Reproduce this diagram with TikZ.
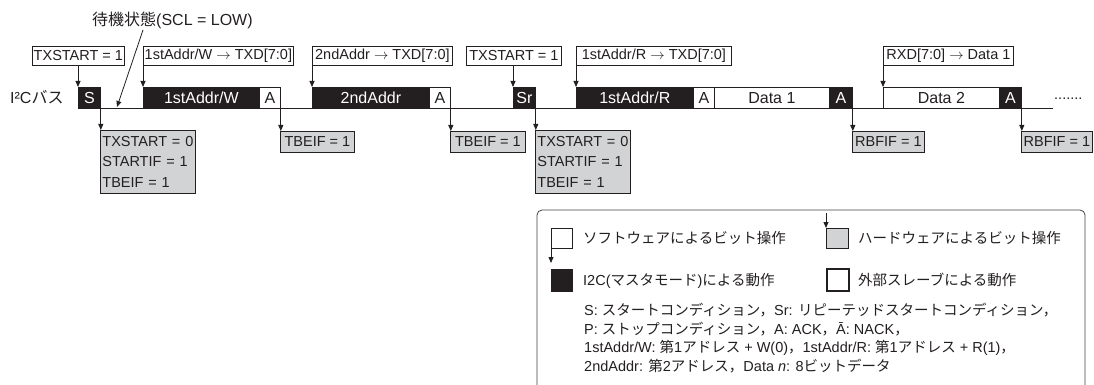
\documentclass[tikz,border=0pt]{standalone}
\usepackage{fontspec}
\setmainfont{Liberation Sans}
\newfontfamily\jp{Noto Sans CJK JP}
\usetikzlibrary{arrows.meta}
\definecolor{ink}{HTML}{231F20}
\definecolor{hwgray}{HTML}{D1D3D4}
\begin{document}
\begin{tikzpicture}[x=1pt,y=-1pt,
  every node/.style={inner sep=0pt, text=ink},
  fs/.style={font=\fontsize{14.5}{17}\selectfont},
  fb/.style={font=\fontsize{16}{19}\selectfont},
  base/.style={draw=ink, line width=0.8pt, anchor=north west},
  swbox/.style={base, fs, fill=white, minimum height=19pt},
  hwbox/.style={base, fs, fill=hwgray, minimum height=21pt},
  hw3box/.style={base, fill=hwgray, minimum height=63pt, inner xsep=2pt, text width=91pt, align=left, font=\fontsize{14.5}{20.5}\selectfont},
  mbox/.style={base, fb, fill=ink, text=white, minimum height=21pt},
  sbox/.style={base, fb, fill=white, minimum height=21pt},
  arr/.style={draw=ink, line width=0.8pt, -{Triangle[length=6pt,width=5pt]}},
]
\useasboundingbox (0,0) rectangle (1094,385);

% title and bus label
\node[fb, anchor=base west] (wait) at (92,26) {{\jp 待機状態}(SCL = LOW)};
\node[fb, anchor=base west] (buslbl) at (10,104) {I²C{\jp バス}};

% bus line
\coordinate (busend) at (1053,108);
\coordinate (busstart) at (78,108);
\draw[draw=ink, line width=0.9pt] (busstart) -- (busend);
\node[fs, anchor=base west] (dots) at (1054,99.5) {.......};

% bus boxes
\node[mbox, minimum width=22pt] (S) at (78,87) {S};
\node[mbox, minimum width=116pt] (AW) at (143,87) {1stAddr/W};
\node[sbox, minimum width=21pt] (A1) at (259,87) {A};
\node[mbox, minimum width=117pt] (AD2) at (312,87) {2ndAddr};
\node[sbox, minimum width=21pt] (A2) at (429,87) {A};
\node[mbox, minimum width=22pt] (Sr) at (513,87) {Sr};
\node[mbox, minimum width=117pt] (AR) at (576,87) {1stAddr/R};
\node[sbox, minimum width=21pt] (A3) at (693,87) {A};
\node[sbox, minimum width=115pt] (D1) at (714,87) {Data 1};
\node[mbox, minimum width=23pt] (A4) at (829,87) {A};
\node[sbox, minimum width=116pt] (D2) at (883,87) {Data 2};
\node[mbox, minimum width=22pt] (A5) at (999,87) {A};

% software boxes
\node[swbox, minimum width=92pt] (sw1) at (32,46) {TXSTART = 1};
\node[swbox, minimum width=150pt] (sw2) at (143,46) {1stAddr/W $\rightarrow$ TXD[7:0]};
\node[swbox, minimum width=140pt] (sw3) at (312,46) {2ndAddr $\rightarrow$ TXD[7:0]};
\node[swbox, minimum width=95pt] (sw4) at (466,46) {TXSTART = 1};
\node[swbox, minimum width=155pt] (sw5) at (576,46) {1stAddr/R $\rightarrow$ TXD[7:0]};
\node[swbox, minimum width=130pt] (sw6) at (883,46) {RXD[7:0] $\rightarrow$ Data 1};

\draw[arr] (S.north west |- sw1.south) -- (S.north west);
\draw[arr] (AW.north west |- sw2.south) -- (AW.north west);
\draw[arr] (AD2.north west |- sw3.south) -- (AD2.north west);
\draw[arr] (Sr.north west |- sw4.south) -- (Sr.north west);
\draw[arr] (AR.north west |- sw5.south) -- (AR.north west);
\draw[arr] (D2.north west |- sw6.south) -- (D2.north west);

% hardware boxes
\node[hw3box] (hw1) at (100,130) {TXSTART = 0\\STARTIF = 1\\TBEIF = 1};
\node[hwbox, minimum width=74pt] (hw2) at (280,131) {TBEIF = 1};
\node[hwbox, minimum width=75pt] (hw3) at (450,131) {TBEIF = 1};
\node[hw3box] (hw4) at (535,130) {TXSTART = 0\\STARTIF = 1\\TBEIF = 1};
\node[hwbox, minimum width=72pt] (hw5) at (852,131) {RBFIF = 1};
\node[hwbox, minimum width=71pt] (hw6) at (1021,131) {RBFIF = 1};

\draw[arr] (S.south east) -- (S.south east |- hw1.north);
\draw[arr] (A1.south east) -- (A1.south east |- hw2.north);
\draw[arr] (A2.south east) -- (A2.south east |- hw3.north);
\draw[arr] (Sr.south east) -- (Sr.south east |- hw4.north);
\draw[arr] (A4.south east) -- (A4.south east |- hw5.north);
\draw[arr] (A5.south east) -- (A5.south east |- hw6.north);

% waiting-state arrow
\coordinate (w1) at (143,30);
\coordinate (w2) at (117,107);
\draw[arr] (w1) -- (w2);

% legend
\draw[draw=ink!85, line width=0.8pt, rounded corners=5pt] (537,388) |- (1085,210) -- (1085,388);
\node[base, fill=white, minimum width=21pt, minimum height=20pt] (lsw) at (551,228) {};
\node[base, fill=ink, minimum width=21pt, minimum height=22pt] (lm) at (551,269) {};
\node[base, fill=hwgray, minimum width=22pt, minimum height=20pt] (lhw) at (826,228) {};
\node[base, fill=white, line width=1.6pt, minimum width=22pt, minimum height=22pt] (ls) at (826,268) {};
\coordinate (la1) at (551,263);
\coordinate (la2) at (826,213);
\draw[arr] (lsw.south west) -- (la1);
\draw[arr] (la2) -- (lhw.north west);

\node[fs, anchor=base west] (t1) at (583,243) {\jp ソフトウェアによるビット操作};
\node[fs, anchor=base west] (t2) at (583,285) {I2C({\jp マスタモード}){\jp による動作}};
\node[fs, anchor=base west] (t3) at (858,243) {\jp ハードウェアによるビット操作};
\node[fs, anchor=base west] (t4) at (858,285) {\jp 外部スレーブによる動作};

\node[fs, anchor=base west] (l1) at (584,315.5) {S: {\jp スタートコンディション，}Sr: {\jp リピーテッドスタートコンディション，}};
\node[fs, anchor=base west] (l2) at (584,334) {P: {\jp ストップコンディション，}A: ACK{\jp ，}Ā: NACK{\jp ，}};
\node[fs, anchor=base west] (l3) at (584,352.5) {1stAddr/W: {\jp 第}1{\jp アドレス} + W(0){\jp ，}1stAddr/R: {\jp 第}1{\jp アドレス} + R(1){\jp ，}};
\node[fs, anchor=base west] (l4) at (584,371) {2ndAddr: {\jp 第}2{\jp アドレス，}Data \textit{n}: 8{\jp ビットデータ}};
\end{tikzpicture}
\end{document}
